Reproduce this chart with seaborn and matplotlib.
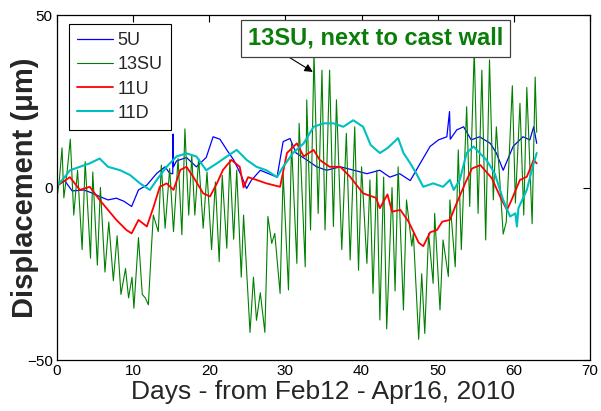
import numpy as np
import pandas as pd
import matplotlib
matplotlib.use("Agg")
import matplotlib.pyplot as plt
import seaborn as sns

# ---- data ----
days_5u = [0.0, 1.0, 2.0, 3.5, 4.5, 5.6, 6.7, 7.8, 8.8, 9.8, 10.7, 11.8, 13.1, 14.2, 14.8, 15.2, 15.25,
           15.3, 15.7, 17.0, 18.3, 19.6, 20.5, 21.4, 22.3, 23.2, 24.2, 24.9, 25.5, 26.7, 27.8, 28.9,
           29.7, 30.6, 31.4, 32.8, 34.1, 35.4, 37.2, 39.0, 40.7, 42.4, 43.7, 45.0, 46.4, 47.7, 49.0,
           50.1, 51.2, 51.55, 51.65, 52.5, 53.4, 54.4, 55.5, 56.9, 57.7, 58.6, 59.3, 59.9, 61.2, 62.1,
           62.6, 63.0]
vals_5u = [0.5, 2, -1, -0.7, -1.5, -2.6, -3.6, -3.1, -4, -5.5, -0.7, 0.7, 4.1, 6, 4.1, 4, 15.5,
           6, 7.7, 8.7, 6, 8.7, 14.7, 14, 10.9, 8, 3.5, -0.3, 2, 5, 4, 3,
           13.3, 14.2, 10, 8, 6, 5, 6, 5, 4, 5, 3, 4, 2, 7, 11.9,
           13.8, 14.7, 22, 14, 16.7, 17.6, 13.8, 14.7, 12.8, 10, 5, 8.7, 11.9, 14.7, 13.8,
           17.6, 12.8]

days_13su = [0.0, 0.3, 0.66, 0.9, 1.3, 1.75, 2.2, 2.7, 3.3, 3.7, 4.4, 4.7, 5.3, 5.7, 6.3, 6.8, 7.4,
             7.9, 8.4, 9.0, 9.4, 9.85, 10.1, 10.7, 11.2, 11.6, 12.0, 12.4, 12.65, 13.3, 13.7, 14.2,
             14.8, 15.3, 15.9, 16.4, 16.8, 17.3, 17.7, 18.1, 18.6, 19.2, 19.7, 20.3, 20.8, 21.3,
             21.7, 22.3, 22.7, 23.2, 23.6, 24.2, 24.5, 25.35, 25.8, 26.2, 26.7, 27.3, 27.7, 28.2,
             28.6, 29.3, 29.7, 30.4, 30.8, 31.5, 31.8, 32.6, 32.8, 33.3, 33.75, 34.3, 34.8, 35.2,
             35.8, 36.3, 36.7, 37.4, 38.0, 38.5, 39.1, 39.6, 40.0, 40.7, 41.1, 41.5, 42.0, 42.4,
             42.9, 43.3, 44.0, 44.4, 44.8, 45.5, 45.9, 46.6, 46.8, 47.5, 47.9, 48.3, 48.8, 49.4,
             49.6, 50.3, 50.7, 51.4, 51.6, 52.3, 52.7, 53.1, 53.8, 54.2, 54.8, 55.3, 55.8, 56.3,
             56.8, 57.3, 57.7, 58.6, 59.0, 59.8, 60.2, 60.8, 61.3, 61.7, 62.4, 62.8, 63.0]
vals_13su = [-3, 2, 11.5, -3, 4, 14, -8, 5, -18, 7.5, -20.5, 4.5, -22.5, 0, -24.5, -10, -27,
             -14, -31, -23.5, -32, -26, -35, -14.5, -31, -32, -34, -17.5, -8, -12.8, 6.5, -11.8,
             5.5, -12.8, 8.4, -13.7, 17, -8, 9.3, -8, 8.4, -11.8, 4.5, -18, 1.6, -21.5,
             3.5, -17.6, 8, -15, 5, -26, -8, -42, -26, -38.5, -30.5, -42, -8.4, -16.2,
             -13.3, -30.7, 4, -29.7, 12.8, -22, 18.6, -23, 25.4, -12.3, 39, -7.5, 34, -12.3,
             34, -11.3, 25.4, -18, 15.7, -21, 17.6, -24, 6, -22, 2.2, -30.7, 5, -38.4,
             3, -41, 0, -30, 6, -35.5, -3.6, -17, -13.3, -44, -25, -42.3, -13.3, -27.8,
             -7.5, -35.5, -15.2, -25.8, -3.6, -23, 10.9, -18, 23.4, -5.5, 40, -7.5, 34, -15.2,
             37, -3.6, 17.6, -13.5, -10, 29.5, -4.5, 24.4, -8, 29, -10.5, 32, 16]

days_11u = [0.0, 1.7, 3.0, 4.3, 5.6, 6.7, 7.8, 9.1, 9.8, 10.7, 11.8, 12.7, 13.5, 14.4, 15.3, 16.2,
            17.0, 17.9, 19.2, 20.1, 21.0, 21.8, 22.9, 24.0, 24.5, 25.1, 26.2, 27.5, 29.3, 30.2,
            31.5, 32.4, 33.7, 34.5, 35.8, 37.2, 38.5, 40.2, 41.9, 42.4, 43.4, 44.0, 45.1, 46.2,
            47.5, 48.1, 49.0, 49.9, 50.6, 51.6, 52.4, 53.7, 54.5, 55.6, 57.1, 58.4, 59.1, 59.7,
            60.8, 61.7, 62.6, 63.0]
vals_11u = [0.5, 3, -0.7, 0.2, -3.6, -6.5, -9.4, -12.3, -13.3, -9.4, -11.3, -5.5, 0.2, 1.2, -0.7, 5.1,
            6, 3.1, -1.7, -2.6, 1.2, 5.1, 8, 6, 0, 3, 2.2, 1.2, 0.2, 10,
            12.8, 9, 10.9, 8, 6, 6, 3.1, -1.7, -3, -6, -2, -7, -6.5, -10,
            -16, -17, -13, -12.3, -9.9, -9.4, -5, 1.7, 5.5, 6.5, 2.7, -3.6, -6.5, -3.6,
            2.2, 3.1, 8, 7]

days_11d = [0.0, 1.0, 1.7, 3.0, 4.3, 5.6, 6.7, 8.3, 9.6, 10.9, 12.2, 13.1, 14.4, 15.7, 17.0, 18.3,
            19.6, 21.0, 22.3, 23.6, 24.9, 26.2, 27.5, 28.9, 29.7, 31.0, 32.4, 33.7, 35.0, 36.3,
            37.6, 38.9, 40.2, 41.2, 42.4, 43.4, 44.8, 45.5, 46.4, 47.2, 48.1, 49.4, 50.7, 51.6,
            52.1, 52.9, 53.8, 54.7, 55.5, 56.4, 57.5, 58.6, 59.5, 60.2, 60.4, 60.6, 61.7, 62.6, 63.0]
vals_11d = [0.5, 3, 5, 6, 7, 8.4, 6, 5, 3.6, 1.2, -0.7, 2.2, 6, 9, 9.9, 9,
            5, 7, 9, 10.9, 8, 6, 5, 3, 6, 10, 12.8, 17.6, 18.6, 18.6,
            17.6, 19.5, 17.6, 12.3, 10, 11.4, 14.3, 10, 7, 4, 0.2, 1.2, 0.2, 2.2,
            -0.7, 2.2, 10, 11.9, 10, 8, 4, -3.6, -8.4, -7.5, -11.3, -6, -0.7, 7, 10]

series_names = ["5U", "13SU", "11U", "11D"]
series_days = [days_5u, days_13su, days_11u, days_11d]
series_vals = [vals_5u, vals_13su, vals_11u, vals_11d]
colors = {"5U": "#0000FF", "13SU": "#008000", "11U": "#FF0000", "11D": "#00BFBF"}
widths = {"5U": 0.9, "13SU": 0.8, "11U": 1.3, "11D": 1.5}

x_ticks = [0, 10, 20, 30, 40, 50, 60, 70]
y_ticks = [-50, 0, 50]

sns.set_style("white")
plt.rcParams["font.family"] = ["Liberation Sans", "DejaVu Sans"]

fig = plt.figure(figsize=(6.01, 4.11), dpi=100)
ax = fig.add_axes([57 / 601, 1 - 360 / 411, 533 / 601, 345 / 411])

for name, d, v in zip(series_names, series_days, series_vals):
    df = pd.DataFrame({"day": d, "val": v})
    sns.lineplot(data=df, x="day", y="val", ax=ax, color=colors[name],
                 linewidth=widths[name], label=name, sort=False, estimator=None)

ax.set_xlim(0, 70)
ax.set_ylim(-50, 50)
ax.set_xticks(x_ticks)
ax.set_yticks(y_ticks)
ax.tick_params(direction="in", length=5, width=0.8, top=True, right=True,
               labelsize=11, colors="black", pad=3)
for s in ax.spines.values():
    s.set_color("black")
    s.set_linewidth(0.9)

ax.set_xlabel("Days - from Feb12 - Apr16, 2010", fontsize=19, labelpad=1)
ax.set_ylabel("Displacement (\u03bcm)", fontsize=21, fontweight="bold", labelpad=0)
ax.yaxis.set_label_coords(-18 / 533, 0.5)

leg = ax.legend(loc="upper left", bbox_to_anchor=(12 / 533, 1 - 9 / 345), borderaxespad=0,
                fontsize=13, frameon=True, fancybox=False, edgecolor="black",
                handlelength=2.0, handletextpad=0.25, labelspacing=0.4, borderpad=0.45)
leg.get_frame().set_linewidth(0.8)
leg.get_frame().set_facecolor("white")
leg.get_frame().set_alpha(1)

ax.annotate("", xy=(33.6, 33.5), xytext=(30.3, 38.0),
            arrowprops=dict(arrowstyle="-|>", color="black", lw=0.8,
                            shrinkA=0, shrinkB=0, mutation_scale=12))
ax.text(41.8, 43.3, "13SU, next to cast wall", ha="center", va="center",
        fontsize=17, fontweight="bold", color="#0A7D0A",
        bbox=dict(boxstyle="square,pad=0.3", fc="white", ec="#404040", lw=0.9))

fig.savefig("out.png", dpi=100)
